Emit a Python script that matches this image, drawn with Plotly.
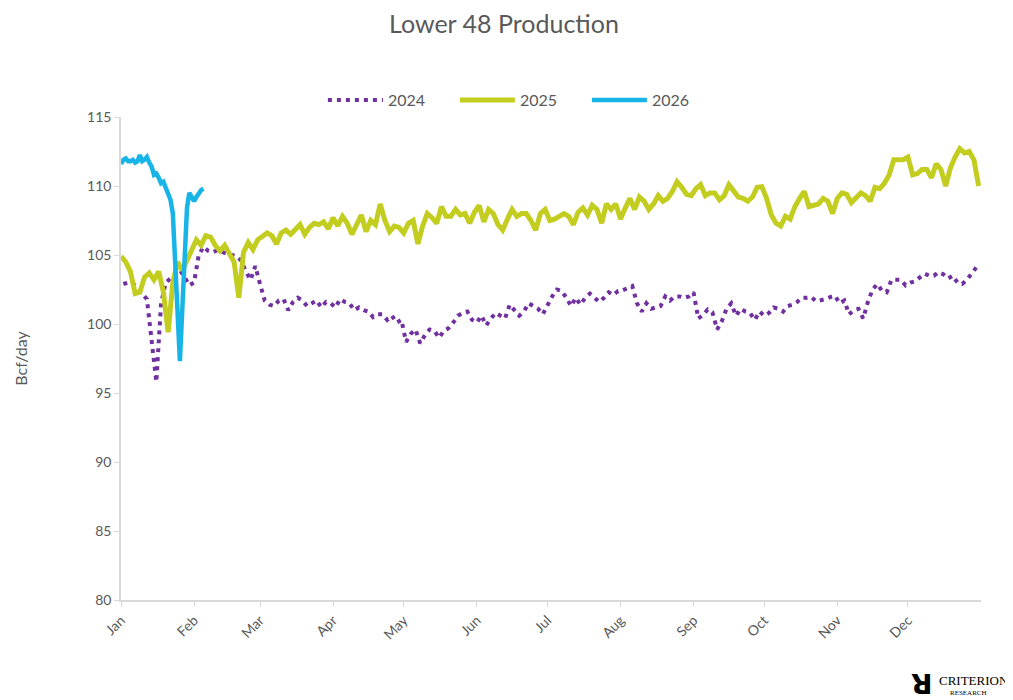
import plotly.graph_objects as go

# Daily production, Bcf/day (x = day of year, Jan 1 = 0)
prod_2024 = [  # every 2nd day starting Jan 2
    102.9, 103.0, 102.9, 102.7, 102.2, 101.8, 98.8, 95.8, 101.5, 103.0,
    103.3, 103.6, 103.9, 103.4, 102.8, 103.0, 105.0, 105.6, 105.3, 105.2,
    105.35, 105.2, 105.1, 105.0, 104.9, 104.6, 103.8, 103.2, 104.2, 102.9,
    101.7, 101.4, 101.3, 101.7, 101.8, 101.0, 101.6, 101.9, 101.7, 101.3,
    101.5, 101.7, 101.2, 101.6, 101.5, 101.2, 101.8, 101.6, 101.5, 101.0,
    101.2, 101.0, 100.9, 100.5, 100.7, 100.7, 100.3, 100.6, 100.1, 100.3,
    98.7, 99.3, 99.6, 98.6, 99.2, 99.6, 99.5, 99.0, 99.5, 99.7,
    100.1, 100.6, 100.8, 100.9, 100.3, 100.1, 100.6, 99.9, 100.4, 100.8,
    100.6, 100.4, 101.4, 101.0, 100.6, 100.9, 101.5, 101.3, 101.1, 100.7,
    101.4, 102.0, 102.5, 102.4, 101.9, 101.3, 101.9, 101.4, 101.9, 102.2,
    101.9, 101.6, 101.9, 102.3, 102.1, 102.4, 102.45, 102.6, 102.75, 101.5,
    100.9, 101.5, 101.1, 101.2, 101.3, 102.0, 101.7, 102.0, 102.0, 101.9,
    102.0, 102.3, 100.4, 100.65, 101.05, 100.85, 99.6, 100.2, 101.1, 101.5,
    100.6, 101.1, 100.9, 100.8, 100.3, 100.9, 100.6, 100.8, 101.2, 101.1,
    100.9, 101.3, 101.4, 101.6, 101.9, 101.9, 101.95, 101.65, 101.7, 101.8,
    101.95, 102.05, 101.5, 101.7, 100.7, 101.0, 101.1, 100.4, 101.6, 102.5,
    102.9, 102.4, 102.3, 103.2, 103.2, 103.2, 102.8, 103.0, 103.1, 103.4,
    103.65, 103.5, 103.5, 103.75, 103.6, 103.3, 103.5, 103.0, 102.9, 103.2,
    103.7, 104.1,
]

prod_2025 = [  # every 2nd day starting Jan 1
    104.9, 104.5, 103.8, 102.2, 102.3, 103.4, 103.7, 103.2, 103.8, 102.3,
    99.4, 103.0, 104.5, 103.9, 104.6, 105.3, 106.1, 105.7, 106.4, 106.3,
    105.7, 105.3, 105.7, 105.1, 104.5, 101.9, 105.2, 105.9, 105.4, 106.1,
    106.3, 106.6, 106.4, 105.8, 106.6, 106.8, 106.5, 106.9, 107.2, 106.5,
    107.0, 107.3, 107.2, 107.4, 106.9, 107.7, 107.1, 107.8, 107.3, 106.5,
    107.2, 107.9, 106.7, 107.5, 107.2, 108.7, 107.5, 106.7, 107.1, 107.0,
    106.6, 107.3, 107.5, 105.8, 107.1, 108.0, 107.7, 107.3, 108.5, 107.8,
    107.8, 108.3, 107.9, 108.0, 107.3, 108.1, 108.6, 107.4, 108.3, 108.0,
    107.2, 106.8, 107.6, 108.3, 107.8, 108.0, 108.0, 107.5, 106.8, 108.0,
    108.3, 107.5, 107.6, 107.8, 108.0, 107.8, 107.2, 108.1, 108.4, 107.9,
    108.6, 108.3, 107.3, 108.7, 108.3, 108.7, 107.6, 108.4, 109.1, 108.3,
    109.2, 108.9, 108.3, 108.7, 109.3, 108.9, 109.1, 109.6, 110.3, 109.9,
    109.4, 109.3, 109.8, 110.1, 109.3, 109.5, 109.5, 109.0, 109.3, 110.1,
    109.6, 109.2, 109.1, 108.9, 109.2, 109.9, 109.95, 109.1, 107.9, 107.3,
    107.1, 107.8, 107.6, 108.5, 109.1, 109.6, 108.5, 108.6, 108.7, 109.1,
    108.9, 108.0, 109.1, 109.5, 109.4, 108.8, 109.2, 109.5, 109.3, 108.9,
    109.9, 109.8, 110.2, 110.8, 111.9, 111.9, 111.9, 112.1, 110.8, 110.9,
    111.2, 111.2, 110.6, 111.6, 111.2, 110.0, 111.3, 112.1, 112.7, 112.4,
    112.5, 111.9, 110.0,
]

prod_2026 = [  # daily from Jan 1
    111.6, 111.9, 112.0, 111.8, 111.8, 111.9, 111.7, 111.8, 112.25, 111.8,
    111.9, 112.1, 111.7, 111.4, 110.8, 110.9, 110.6, 110.2, 110.3, 109.9,
    109.4, 109.0, 108.0, 104.5, 100.2, 97.3, 101.0, 105.4, 108.4, 109.5,
    109.1, 108.9, 109.2, 109.5, 109.7, 109.8,
]

month_starts = [0, 31, 59, 90, 120, 151, 181, 212, 243, 273, 304, 334]
month_labels = ["Jan", "Feb", "Mar", "Apr", "May", "Jun",
                "Jul", "Aug", "Sep", "Oct", "Nov", "Dec"]

days_2024 = [1 + 2 * i for i in range(len(prod_2024))]
days_2025 = [2 * i for i in range(len(prod_2025))]
days_2026 = list(range(len(prod_2026)))

grey = "#595959"
axis_grey = "#D9D9D9"

fig = go.Figure()
fig.add_trace(go.Scatter(x=days_2024, y=prod_2024, name="2024", mode="lines",
                         line=dict(color="#7030A0", width=4, dash="4px,5px")))
fig.add_trace(go.Scatter(x=days_2025, y=prod_2025, name="2025", mode="lines",
                         line=dict(color="#C3CD1F", width=5)))
fig.add_trace(go.Scatter(x=days_2026, y=prod_2026, name="2026", mode="lines",
                         line=dict(color="#17B4E8", width=4.5)))

# page body has an 8px margin, so the figure is sized 8px smaller
fig.update_layout(
    width=1005, height=692,
    margin=dict(l=113, r=32, t=109, b=100, autoexpand=False),
    plot_bgcolor="white", paper_bgcolor="white",
    font=dict(family="Lato, Open Sans, sans-serif", color=grey, size=14),
    legend=dict(orientation="h", x=0.465, xanchor="center", y=1.035, yanchor="middle",
                font=dict(size=16, color=grey), itemwidth=55,
                entrywidth=62, entrywidthmode="pixels"),
    showlegend=True,
)

# chart title as an annotation above the plot
fig.add_annotation(text="Lower 48 Production", xref="paper", yref="paper",
                   x=0.445, y=1.195, xanchor="center", yanchor="middle",
                   showarrow=False, font=dict(size=25, color=grey))

fig.update_xaxes(
    range=[0, 365], tickmode="array", tickvals=month_starts, ticktext=month_labels,
    tickangle=-45, ticks="outside", ticklen=5, tickcolor=axis_grey,
    showline=True, linecolor=axis_grey, linewidth=1.5, showgrid=False,
    zeroline=False, tickfont=dict(size=14, color=grey), automargin=False,
)
fig.update_yaxes(
    range=[80, 115], dtick=5, ticks="outside", ticklen=5, tickcolor=axis_grey,
    showline=True, linecolor=axis_grey, linewidth=1.5, showgrid=False,
    zeroline=False, tickfont=dict(size=14, color=grey), automargin=False,
    title=dict(text="Bcf/day", font=dict(size=16, color=grey), standoff=55),
)

# Criterion Research logo text
fig.add_annotation(text="<b>ꓤ</b>", xref="paper", yref="paper", x=0.947, y=-0.174,
                   xanchor="right", yanchor="middle", showarrow=False,
                   font=dict(family="DejaVu Sans", size=28, color="black"))
fig.add_annotation(text="CRITERION", xref="paper", yref="paper", x=0.949, y=-0.166,
                   xanchor="left", yanchor="middle", showarrow=False,
                   font=dict(family="Liberation Serif", size=13, color="black"))
fig.add_annotation(text="RESEARCH", xref="paper", yref="paper", x=0.962, y=-0.193,
                   xanchor="left", yanchor="middle", showarrow=False,
                   font=dict(family="Liberation Serif", size=7, color="black"))

fig.write_html("out.html")
